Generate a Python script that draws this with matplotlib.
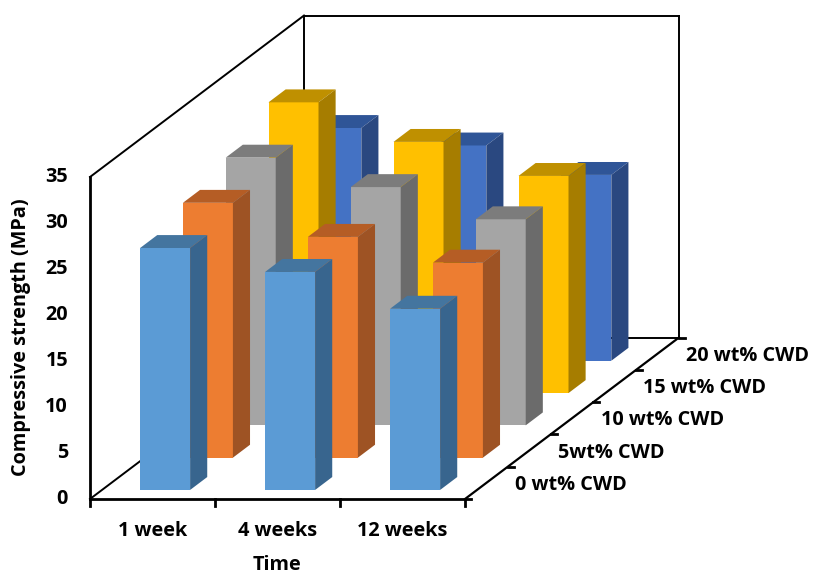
import matplotlib
matplotlib.use("Agg")
import matplotlib.pyplot as plt

plt.rcParams['font.family'] = ['Open Sans', 'DejaVu Sans']

weeks = ['1 week', '4 weeks', '12 weeks']
series_names = ['0 wt% CWD', '5wt% CWD', '10 wt% CWD', '15 wt% CWD', '20 wt% CWD']
y_ticks = [0, 5, 10, 15, 20, 25, 30, 35]

cwd_0 = [26.3, 23.7, 19.7]
cwd_5 = [27.7, 24.0, 21.2]
cwd_10 = [29.1, 25.9, 22.4]
cwd_15 = [31.6, 27.3, 23.6]
cwd_20 = [25.3, 23.4, 20.2]
all_series = [cwd_0, cwd_5, cwd_10, cwd_15, cwd_20]

front = ['#5B9BD5', '#ED7D31', '#A5A5A5', '#FFC000', '#4472C4']
top = ['#44759F', '#B55D25', '#7C7C7C', '#BF9000', '#2F5597']
side = ['#38658E', '#9E5324', '#6B6B6B', '#A67D00', '#2A4880']

# oblique projection, pixels of the figure
X0, Y0 = 90.0, 499.0
CAT_W = 125.0
DX, DY = 42.8, -32.3
UNIT = 9.2


def proj(c, s, v=0.0):
    return X0 + CAT_W * c + DX * s, Y0 + DY * s - UNIT * v


fig = plt.figure(figsize=(8.13, 5.74), dpi=100)
ax = fig.add_axes([0, 0, 1, 1])
ax.set_xlim(0, 813)
ax.set_ylim(574, 0)
ax.axis('off')


def line(p, q, lw=2.0):
    ax.plot([p[0], q[0]], [p[1], q[1]], color='black', lw=lw, solid_capstyle='projecting', zorder=1)


n_c = len(weeks)
n_s = len(series_names)
# back walls
line(proj(0, n_s), proj(0, n_s, 35), 1.4)
line(proj(0, n_s, 35), proj(n_c, n_s, 35), 1.4)
line(proj(n_c, n_s, 35), proj(n_c, n_s), 1.4)
line(proj(0, n_s), proj(n_c, n_s), 1.4)
line(proj(0, 0, 35), proj(0, n_s, 35), 1.4)
line(proj(0, 0), proj(0, n_s), 1.4)

# bars, back row first
bar_w = 0.4
bar_d = 0.4
for s in range(n_s - 1, -1, -1):
    s0 = s + 0.28
    s1 = s0 + bar_d
    for c in range(n_c):
        c0 = c + 0.305
        c1 = c0 + bar_w
        v = all_series[s][c]
        pts = [proj(c0, s0), proj(c1, s0), proj(c1, s0, v), proj(c0, s0, v)]
        ax.fill(*zip(*pts), color=front[s], lw=0, zorder=3)
        pts = [proj(c0, s0, v), proj(c1, s0, v), proj(c1, s1, v), proj(c0, s1, v)]
        ax.fill(*zip(*pts), color=top[s], lw=0, zorder=3)
        pts = [proj(c1, s0), proj(c1, s1), proj(c1, s1, v), proj(c1, s0, v)]
        ax.fill(*zip(*pts), color=side[s], lw=0, zorder=3)

# front axes
line(proj(0, 0), proj(0, 0, 35))
line(proj(0, 0), proj(n_c, 0))
line(proj(n_c, 0), proj(n_c, n_s), 1.6)
for c in range(n_c + 1):
    x, y = proj(c, 0)
    line((x, y), (x, y + 7))
for s in range(n_s + 1):
    x, y = proj(n_c, s)
    line((x, y), (x + 6, y))

fs = 14.3
for t in y_ticks:
    x, y = proj(0, 0, t)
    ax.text(x - 22, y, str(t), ha='right', va='center', fontsize=fs, fontweight='bold')
for c, name in enumerate(weeks):
    x, y = proj(c + 0.5, 0)
    ax.text(x, y + 32, name, ha='center', va='center', fontsize=fs, fontweight='bold')
for s, name in enumerate(series_names):
    x, y = proj(n_c, s)
    ax.text(x + 50, y - 14, name, ha='left', va='center', fontsize=fs, fontweight='bold')

ax.text(277, 565, 'Time', ha='center', va='center', fontsize=fs, fontweight='bold')
ax.text(21, 337, 'Compressive strength (MPa)', rotation=90, ha='center', va='center',
        fontsize=fs, fontweight='bold')

fig.savefig('out.png', dpi=100)
